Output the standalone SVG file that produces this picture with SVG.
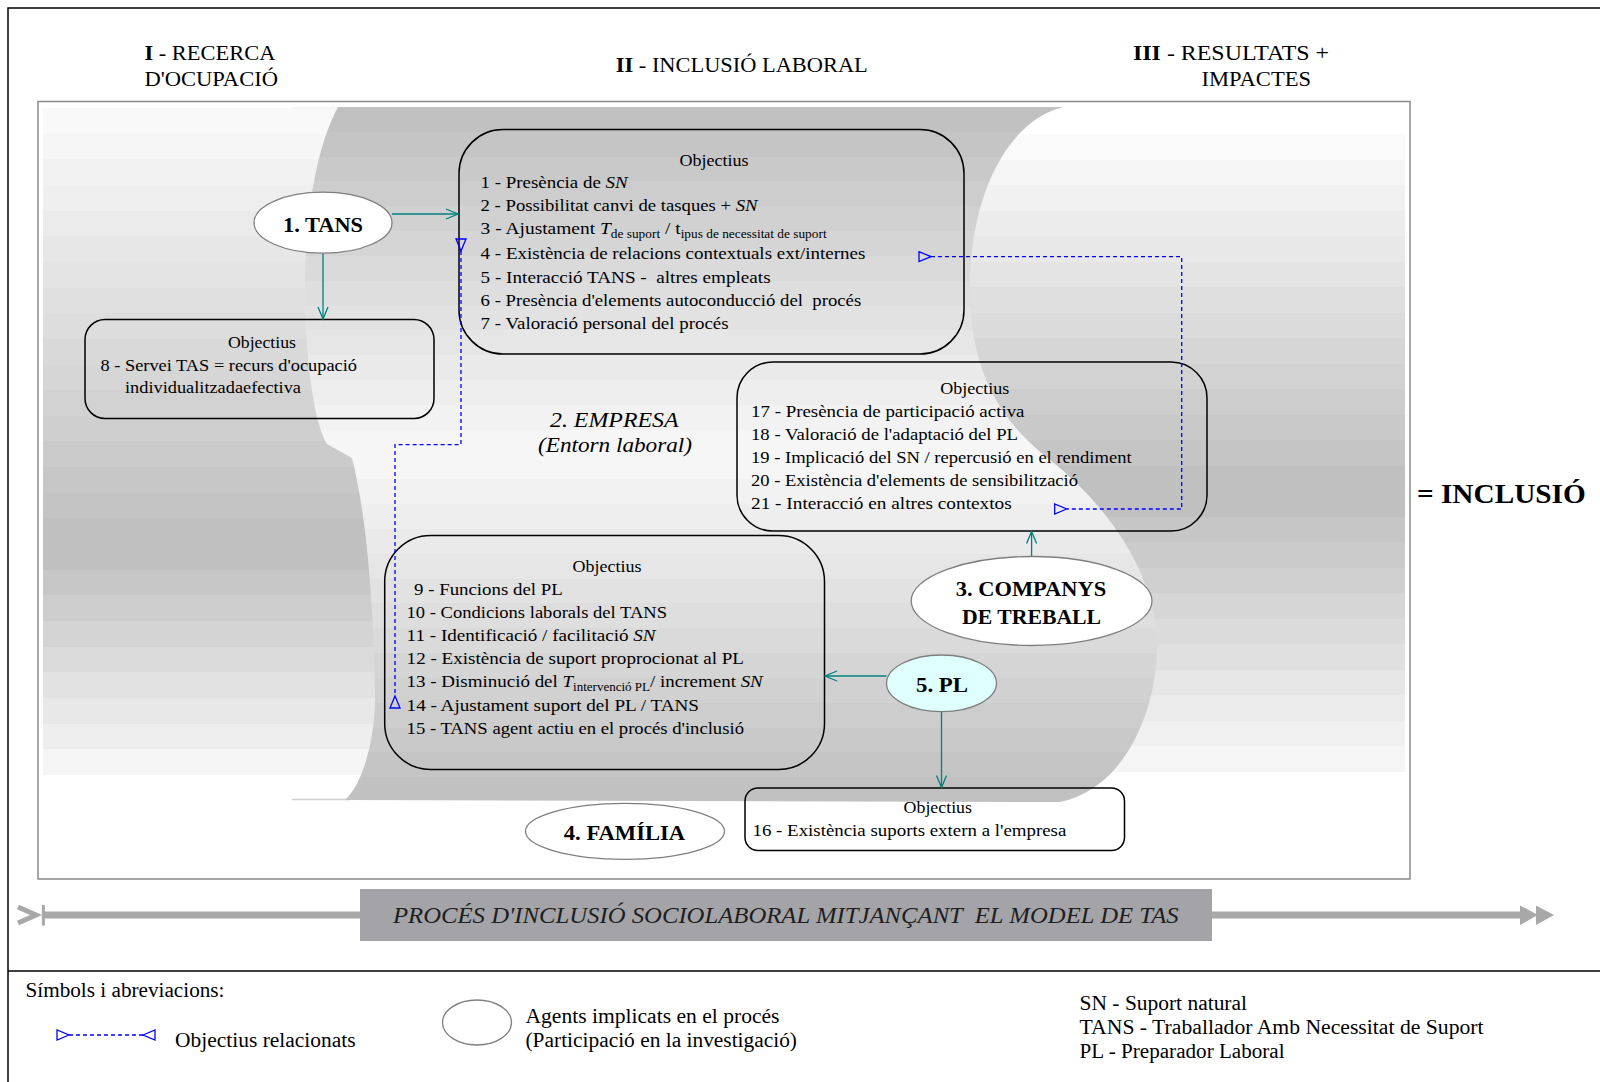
<svg xmlns="http://www.w3.org/2000/svg" width="1600" height="1082" viewBox="0 0 1600 1082">
<defs>
<style>
.t{font-family:"Liberation Serif","Times New Roman",serif;fill:#000}
.o{font-size:17.5px}
.h{font-size:22px}
.ag{font-size:22px;font-weight:bold;text-anchor:middle}
.lg{font-size:20px}
.mid{text-anchor:middle}
.box{fill:none;stroke:#000;stroke-width:1.5}
.agent{fill:#fff;stroke:#7f7f7f;stroke-width:1.3}
.conn{stroke:#008080;stroke-width:1.3;fill:none;marker-end:url(#arr)}
.rel{stroke:#0000ff;stroke-width:1.3;stroke-dasharray:4 3;fill:none;marker-start:url(#tri);marker-end:url(#tri)}
</style>
<linearGradient id="gL" gradientUnits="userSpaceOnUse" x1="0" y1="108" x2="0" y2="775">
<stop offset="0" stop-color="#f9f9f9"/><stop offset=".0385" stop-color="#f9f9f9"/>
<stop offset=".0385" stop-color="#f6f6f6"/><stop offset=".0769" stop-color="#f6f6f6"/>
<stop offset=".0769" stop-color="#f2f2f2"/><stop offset=".1154" stop-color="#f2f2f2"/>
<stop offset=".1154" stop-color="#efefef"/><stop offset=".1538" stop-color="#efefef"/>
<stop offset=".1538" stop-color="#ebebeb"/><stop offset=".1923" stop-color="#ebebeb"/>
<stop offset=".1923" stop-color="#e7e7e7"/><stop offset=".2308" stop-color="#e7e7e7"/>
<stop offset=".2308" stop-color="#e4e4e4"/><stop offset=".2692" stop-color="#e4e4e4"/>
<stop offset=".2692" stop-color="#e0e0e0"/><stop offset=".3077" stop-color="#e0e0e0"/>
<stop offset=".3077" stop-color="#dddddd"/><stop offset=".3462" stop-color="#dddddd"/>
<stop offset=".3462" stop-color="#d9d9d9"/><stop offset=".3846" stop-color="#d9d9d9"/>
<stop offset=".3846" stop-color="#d6d6d6"/><stop offset=".4231" stop-color="#d6d6d6"/>
<stop offset=".4231" stop-color="#d2d2d2"/><stop offset=".4615" stop-color="#d2d2d2"/>
<stop offset=".4615" stop-color="#cfcfcf"/><stop offset=".5" stop-color="#cfcfcf"/>
<stop offset=".5" stop-color="#cbcbcb"/><stop offset=".5385" stop-color="#cbcbcb"/>
<stop offset=".5385" stop-color="#c7c7c7"/><stop offset=".5769" stop-color="#c7c7c7"/>
<stop offset=".5769" stop-color="#c4c4c4"/><stop offset=".6154" stop-color="#c4c4c4"/>
<stop offset=".6154" stop-color="#c0c0c0"/><stop offset=".6923" stop-color="#c0c0c0"/>
<stop offset=".6923" stop-color="#c7c7c7"/><stop offset=".7308" stop-color="#c7c7c7"/>
<stop offset=".7308" stop-color="#cdcdcd"/><stop offset=".7692" stop-color="#cdcdcd"/>
<stop offset=".7692" stop-color="#d4d4d4"/><stop offset=".8077" stop-color="#d4d4d4"/>
<stop offset=".8077" stop-color="#dbdbdb"/><stop offset=".8462" stop-color="#dbdbdb"/>
<stop offset=".8462" stop-color="#e1e1e1"/><stop offset=".8846" stop-color="#e1e1e1"/>
<stop offset=".8846" stop-color="#e8e8e8"/><stop offset=".9231" stop-color="#e8e8e8"/>
<stop offset=".9231" stop-color="#eeeeee"/><stop offset=".9615" stop-color="#eeeeee"/>
<stop offset=".9615" stop-color="#f5f5f5"/><stop offset="1" stop-color="#f5f5f5"/>
</linearGradient>
<linearGradient id="gR" gradientUnits="userSpaceOnUse" x1="0" y1="134" x2="0" y2="772">
<stop offset="0" stop-color="#fafafa"/><stop offset=".04" stop-color="#fafafa"/>
<stop offset=".04" stop-color="#f5f5f5"/><stop offset=".08" stop-color="#f5f5f5"/>
<stop offset=".08" stop-color="#f1f1f1"/><stop offset=".12" stop-color="#f1f1f1"/>
<stop offset=".12" stop-color="#ececec"/><stop offset=".16" stop-color="#ececec"/>
<stop offset=".16" stop-color="#e8e8e8"/><stop offset=".20" stop-color="#e8e8e8"/>
<stop offset=".20" stop-color="#e4e4e4"/><stop offset=".24" stop-color="#e4e4e4"/>
<stop offset=".24" stop-color="#dfdfdf"/><stop offset=".28" stop-color="#dfdfdf"/>
<stop offset=".28" stop-color="#dbdbdb"/><stop offset=".32" stop-color="#dbdbdb"/>
<stop offset=".32" stop-color="#d6d6d6"/><stop offset=".36" stop-color="#d6d6d6"/>
<stop offset=".36" stop-color="#d2d2d2"/><stop offset=".40" stop-color="#d2d2d2"/>
<stop offset=".40" stop-color="#cdcdcd"/><stop offset=".44" stop-color="#cdcdcd"/>
<stop offset=".44" stop-color="#c9c9c9"/><stop offset=".48" stop-color="#c9c9c9"/>
<stop offset=".48" stop-color="#c5c5c5"/><stop offset=".52" stop-color="#c5c5c5"/>
<stop offset=".52" stop-color="#c0c0c0"/><stop offset=".60" stop-color="#c0c0c0"/>
<stop offset=".60" stop-color="#c6c6c6"/><stop offset=".64" stop-color="#c6c6c6"/>
<stop offset=".64" stop-color="#cbcbcb"/><stop offset=".68" stop-color="#cbcbcb"/>
<stop offset=".68" stop-color="#d0d0d0"/><stop offset=".72" stop-color="#d0d0d0"/>
<stop offset=".72" stop-color="#d6d6d6"/><stop offset=".76" stop-color="#d6d6d6"/>
<stop offset=".76" stop-color="#dbdbdb"/><stop offset=".80" stop-color="#dbdbdb"/>
<stop offset=".80" stop-color="#e0e0e0"/><stop offset=".84" stop-color="#e0e0e0"/>
<stop offset=".84" stop-color="#e6e6e6"/><stop offset=".88" stop-color="#e6e6e6"/>
<stop offset=".88" stop-color="#ebebeb"/><stop offset=".92" stop-color="#ebebeb"/>
<stop offset=".92" stop-color="#f0f0f0"/><stop offset=".96" stop-color="#f0f0f0"/>
<stop offset=".96" stop-color="#f5f5f5"/><stop offset="1" stop-color="#f5f5f5"/>
</linearGradient>
<linearGradient id="gB" gradientUnits="userSpaceOnUse" x1="0" y1="107" x2="0" y2="802">
<stop offset="0" stop-color="#c1c1c1"/><stop offset=".0357" stop-color="#c1c1c1"/>
<stop offset=".0357" stop-color="#c5c5c5"/><stop offset=".0714" stop-color="#c5c5c5"/>
<stop offset=".0714" stop-color="#c9c9c9"/><stop offset=".1071" stop-color="#c9c9c9"/>
<stop offset=".1071" stop-color="#cdcdcd"/><stop offset=".1429" stop-color="#cdcdcd"/>
<stop offset=".1429" stop-color="#d1d1d1"/><stop offset=".1786" stop-color="#d1d1d1"/>
<stop offset=".1786" stop-color="#d5d5d5"/><stop offset=".2143" stop-color="#d5d5d5"/>
<stop offset=".2143" stop-color="#dadada"/><stop offset=".25" stop-color="#dadada"/>
<stop offset=".25" stop-color="#dedede"/><stop offset=".2857" stop-color="#dedede"/>
<stop offset=".2857" stop-color="#e2e2e2"/><stop offset=".3214" stop-color="#e2e2e2"/>
<stop offset=".3214" stop-color="#e6e6e6"/><stop offset=".3571" stop-color="#e6e6e6"/>
<stop offset=".3571" stop-color="#eaeaea"/><stop offset=".3929" stop-color="#eaeaea"/>
<stop offset=".3929" stop-color="#eeeeee"/><stop offset=".4286" stop-color="#eeeeee"/>
<stop offset=".4286" stop-color="#f2f2f2"/><stop offset=".4643" stop-color="#f2f2f2"/>
<stop offset=".4643" stop-color="#f6f6f6"/><stop offset=".5357" stop-color="#f6f6f6"/>
<stop offset=".5357" stop-color="#f2f2f2"/><stop offset=".5714" stop-color="#f2f2f2"/>
<stop offset=".5714" stop-color="#eeeeee"/><stop offset=".6071" stop-color="#eeeeee"/>
<stop offset=".6071" stop-color="#eaeaea"/><stop offset=".6429" stop-color="#eaeaea"/>
<stop offset=".6429" stop-color="#e6e6e6"/><stop offset=".6786" stop-color="#e6e6e6"/>
<stop offset=".6786" stop-color="#e2e2e2"/><stop offset=".7143" stop-color="#e2e2e2"/>
<stop offset=".7143" stop-color="#dedede"/><stop offset=".75" stop-color="#dedede"/>
<stop offset=".75" stop-color="#dadada"/><stop offset=".7857" stop-color="#dadada"/>
<stop offset=".7857" stop-color="#d5d5d5"/><stop offset=".8214" stop-color="#d5d5d5"/>
<stop offset=".8214" stop-color="#d1d1d1"/><stop offset=".8571" stop-color="#d1d1d1"/>
<stop offset=".8571" stop-color="#cdcdcd"/><stop offset=".8929" stop-color="#cdcdcd"/>
<stop offset=".8929" stop-color="#c9c9c9"/><stop offset=".9286" stop-color="#c9c9c9"/>
<stop offset=".9286" stop-color="#c5c5c5"/><stop offset=".9643" stop-color="#c5c5c5"/>
<stop offset=".9643" stop-color="#c1c1c1"/><stop offset="1" stop-color="#c1c1c1"/>
</linearGradient>
<marker id="arr" markerUnits="userSpaceOnUse" markerWidth="1" markerHeight="1" refX="0" refY="0" orient="auto" overflow="visible">
<path d="M-12,-5 L0,0 L-12,5" fill="none" stroke="#008080" stroke-width="1.3"/>
</marker>
<marker id="tri" markerUnits="userSpaceOnUse" markerWidth="1" markerHeight="1" refX="0" refY="0" orient="auto-start-reverse" overflow="visible">
<path d="M0,0 L12,-5 L12,5 Z" fill="none" stroke="#0000ff" stroke-width="1.3"/>
</marker>
</defs>

<!-- outer frame -->
<path d="M8,1082 V8 H1600" fill="none" stroke="#000" stroke-width="1.5"/>
<line x1="8" y1="971" x2="1600" y2="971" stroke="#000" stroke-width="1.5"/>

<!-- headers -->
<g id="headers" class="t h">
<text x="144.4" y="60" textLength="131" lengthAdjust="spacingAndGlyphs"><tspan font-weight="bold">I</tspan> - RECERCA</text>
<text x="144.4" y="86" textLength="133.6" lengthAdjust="spacingAndGlyphs">D'OCUPACIÓ</text>
<text x="615.8" y="71.7" textLength="252" lengthAdjust="spacingAndGlyphs"><tspan font-weight="bold">II</tspan> - INCLUSIÓ LABORAL</text>
<text x="1133" y="60" textLength="196" lengthAdjust="spacingAndGlyphs"><tspan font-weight="bold">III</tspan> - RESULTATS +</text>
<text x="1201.5" y="86" textLength="109.5" lengthAdjust="spacingAndGlyphs">IMPACTES</text>
</g>

<!-- background area -->
<g id="background">
<rect x="38" y="101.5" width="1372" height="777.5" fill="#fff" stroke="#8a8a8a" stroke-width="1.5"/>
<rect x="43" y="108" width="700" height="667" fill="url(#gL)"/>
<rect x="800" y="134" width="605" height="638" fill="url(#gR)"/>
<line x1="292" y1="108" x2="340" y2="108" stroke="#f4f4f4" stroke-width="2"/>
<line x1="292" y1="799.5" x2="350" y2="799.5" stroke="#d0d0d0" stroke-width="1.5"/>
<path id="band" fill="url(#gB)" d="M338,107 L1063,107 C1010,120 972,190 970,280 C969,350 985,410 1050,460 C1120,515 1160,590 1157,650 C1155,720 1120,790 1060,802 L345,800 C362,785 376,740 375,692 C374,620 368,520 352,458 L327,444 C312,420 304,340 305,279 C306,200 320,140 338,107 Z"/>
</g>

<!-- objective boxes -->
<g id="obj1-7">
<rect class="box" x="459" y="129.5" width="505" height="224.5" rx="44" ry="44"/>
<g class="t o">
<text class="mid" x="714" y="165.7" textLength="69" lengthAdjust="spacingAndGlyphs">Objectius</text>
<text x="480.6" y="188.3" textLength="147" lengthAdjust="spacingAndGlyphs">1 - Presència de <tspan font-style="italic">SN</tspan></text>
<text x="480.6" y="211" textLength="277" lengthAdjust="spacingAndGlyphs">2 - Possibilitat canvi de tasques + <tspan font-style="italic">SN</tspan></text>
<text x="480.6" y="234" textLength="346" lengthAdjust="spacingAndGlyphs">3 - Ajustament <tspan font-style="italic">T</tspan><tspan font-size="12" dy="4">de suport</tspan><tspan dy="-4"> / t</tspan><tspan font-size="12" dy="4">ipus de necessitat de suport</tspan></text>
<text x="480.6" y="259.3" textLength="384.7" lengthAdjust="spacingAndGlyphs">4 - Existència de relacions contextuals ext/internes</text>
<text x="480.6" y="282.7" textLength="290" lengthAdjust="spacingAndGlyphs">5 - Interacció TANS - &#160;altres empleats</text>
<text x="480.6" y="306" textLength="380.6" lengthAdjust="spacingAndGlyphs">6 - Presència d'elements autoconducció del &#160;procés</text>
<text x="480.6" y="329.3" textLength="248" lengthAdjust="spacingAndGlyphs">7 - Valoració personal del procés</text>
</g>
</g>

<g id="obj8">
<rect class="box" x="85" y="319.5" width="349" height="99" rx="20" ry="20"/>
<g class="t o">
<text class="mid" x="262" y="348" textLength="68" lengthAdjust="spacingAndGlyphs">Objectius</text>
<text x="100.5" y="370.7" textLength="256.5" lengthAdjust="spacingAndGlyphs">8 - Servei TAS = recurs d'ocupació</text>
<text x="125" y="393.3" textLength="176" lengthAdjust="spacingAndGlyphs">individualitzadaefectiva</text>
</g>
</g>

<g id="obj17-21">
<rect class="box" x="737" y="362" width="470" height="169" rx="36" ry="36"/>
<g class="t o">
<text class="mid" x="974.7" y="394" textLength="69" lengthAdjust="spacingAndGlyphs">Objectius</text>
<text x="751" y="417.3" textLength="273.5" lengthAdjust="spacingAndGlyphs">17 - Presència de participació activa</text>
<text x="751" y="440" textLength="267" lengthAdjust="spacingAndGlyphs">18 - Valoració de l'adaptació del PL</text>
<text x="751" y="463.3" textLength="380.6" lengthAdjust="spacingAndGlyphs">19 - Implicació del SN / repercusió en el rendiment</text>
<text x="751" y="486" textLength="327" lengthAdjust="spacingAndGlyphs">20 - Existència d'elements de sensibilització</text>
<text x="751" y="509.3" textLength="260.7" lengthAdjust="spacingAndGlyphs">21 - Interacció en altres contextos</text>
</g>
</g>

<g id="obj9-15">
<rect class="box" x="384.7" y="535.5" width="439.8" height="234" rx="46" ry="46"/>
<g class="t o">
<text class="mid" x="607" y="571.7" textLength="69" lengthAdjust="spacingAndGlyphs">Objectius</text>
<text x="414" y="595" textLength="148.8" lengthAdjust="spacingAndGlyphs">9 - Funcions del PL</text>
<text x="406.6" y="617.7" textLength="260.4" lengthAdjust="spacingAndGlyphs">10 - Condicions laborals del TANS</text>
<text x="406.6" y="640.7" textLength="249" lengthAdjust="spacingAndGlyphs">11 - Identificació / facilitació <tspan font-style="italic">SN</tspan></text>
<text x="406.6" y="664" textLength="337.4" lengthAdjust="spacingAndGlyphs">12 - Existència de suport proprocionat al PL</text>
<text x="406.6" y="687.3" textLength="356.2" lengthAdjust="spacingAndGlyphs">13 - Disminució del <tspan font-style="italic">T</tspan><tspan font-size="12" dy="4">intervenció PL</tspan><tspan dy="-4">/ increment </tspan><tspan font-style="italic">SN</tspan></text>
<text x="406.6" y="711" textLength="292.4" lengthAdjust="spacingAndGlyphs">14 - Ajustament suport del PL / TANS</text>
<text x="406.6" y="734" textLength="337.4" lengthAdjust="spacingAndGlyphs">15 - TANS agent actiu en el procés d'inclusió</text>
</g>
</g>

<g id="obj16">
<rect class="box" x="745" y="788" width="379.5" height="62.5" rx="13" ry="13"/>
<g class="t o">
<text class="mid" x="937.8" y="812.5" textLength="68.4" lengthAdjust="spacingAndGlyphs">Objectius</text>
<text x="752.5" y="836" textLength="313.8" lengthAdjust="spacingAndGlyphs">16 - Existència suports extern a l'empresa</text>
</g>
</g>

<g id="empresa" class="t" font-style="italic" font-size="22">
<text class="mid" x="614.3" y="426.7" textLength="128.6" lengthAdjust="spacingAndGlyphs">2. EMPRESA</text>
<text class="mid" x="615" y="452" textLength="154" lengthAdjust="spacingAndGlyphs">(Entorn laboral)</text>
</g>

<!-- connectors -->
<g id="connectors">
<path class="conn" d="M392,214 H458"/>
<path class="conn" d="M323,253.2 V319"/>
<path class="conn" d="M1031.6,556.5 V531.5"/>
<path class="conn" d="M886.5,676 H825"/>
<path class="conn" d="M941.5,711.6 V787.5"/>
<path class="rel" d="M461,251 V444.6 H395 V696"/>
<path class="rel" d="M931,256.6 H1181.7 V509 H1066.7"/>
</g>

<!-- agents -->
<g id="agent-tans">
<ellipse class="agent" cx="323" cy="222.7" rx="69" ry="30.5"/>
<text class="t ag" x="323" y="231.7" textLength="80" lengthAdjust="spacingAndGlyphs">1. TANS</text>
</g>
<g id="agent-companys">
<ellipse class="agent" cx="1031.6" cy="601" rx="120.4" ry="44.5"/>
<text class="t ag" x="1031" y="596" textLength="150.4" lengthAdjust="spacingAndGlyphs">3. COMPANYS</text>
<text class="t ag" x="1031.6" y="624.3" textLength="139" lengthAdjust="spacingAndGlyphs">DE TREBALL</text>
</g>
<g id="agent-pl">
<ellipse class="agent" cx="941.5" cy="683.3" rx="55" ry="28.3" style="fill:#dfffff"/>
<text class="t ag" x="942" y="691.7" textLength="52" lengthAdjust="spacingAndGlyphs">5. PL</text>
</g>
<g id="agent-familia">
<ellipse class="agent" cx="625" cy="831.3" rx="99.5" ry="28"/>
<text class="t ag" x="624.5" y="840" textLength="121.4" lengthAdjust="spacingAndGlyphs">4. FAMÍLIA</text>
</g>

<g id="inclusio">
<text class="t" x="1417" y="502.7" font-size="28" font-weight="bold" textLength="168.7" lengthAdjust="spacingAndGlyphs">= INCLUSIÓ</text>
</g>

<!-- process bar -->
<g id="process">
<line x1="43" y1="915" x2="1522" y2="915" stroke="#a8a8a8" stroke-width="7"/>
<polyline points="18,907 36,915 18,923" fill="none" stroke="#a8a8a8" stroke-width="5"/>
<line x1="43.4" y1="905" x2="43.4" y2="925.5" stroke="#a8a8a8" stroke-width="3"/>
<polygon points="1520,905.5 1538,915 1520,925" fill="#a8a8a8"/>
<polygon points="1536,905.5 1554,915 1536,925" fill="#a8a8a8"/>
<rect x="360" y="889" width="852" height="52" fill="#a4a4a8"/>
<text class="t" x="393" y="922.7" font-size="24" font-style="italic" style="fill:#1e1e1e" textLength="785.7" lengthAdjust="spacingAndGlyphs">PROCÉS D'INCLUSIÓ SOCIOLABORAL MITJANÇANT &#160;EL MODEL DE TAS</text>
</g>

<!-- legend -->
<g id="legend" class="t lg">
<text x="25.5" y="996.7" textLength="199" lengthAdjust="spacingAndGlyphs">Símbols i abreviacions:</text>
<path class="rel" d="M69,1035 H143"/>
<text x="175" y="1046.7" textLength="180.6" lengthAdjust="spacingAndGlyphs">Objectius relacionats</text>
<ellipse class="agent" cx="477" cy="1022.5" rx="34.5" ry="22.5"/>
<text x="525.5" y="1023.3" textLength="254" lengthAdjust="spacingAndGlyphs">Agents implicats en el procés</text>
<text x="525.5" y="1046.7" textLength="271.5" lengthAdjust="spacingAndGlyphs">(Participació en la investigació)</text>
<text x="1079.6" y="1010" textLength="167.4" lengthAdjust="spacingAndGlyphs">SN - Suport natural</text>
<text x="1079.6" y="1034" textLength="404" lengthAdjust="spacingAndGlyphs">TANS - Traballador Amb Necessitat de Suport</text>
<text x="1079.6" y="1058.3" textLength="205" lengthAdjust="spacingAndGlyphs">PL - Preparador Laboral</text>
</g>
</svg>
